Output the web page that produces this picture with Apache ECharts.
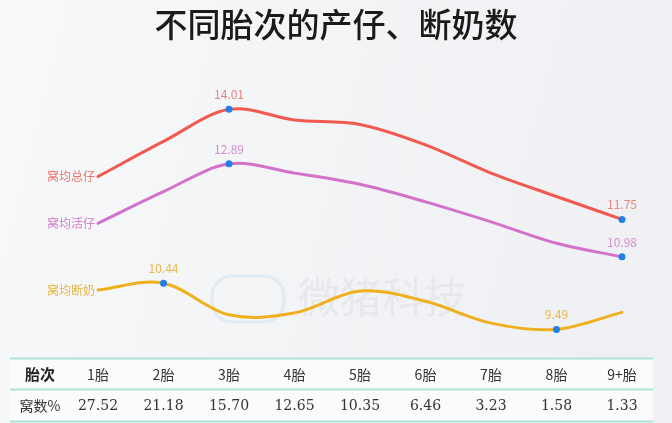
<!DOCTYPE html>
<html>
<head>
<meta charset="utf-8">
<script src="https://cdn.jsdelivr.net/npm/echarts@6/dist/echarts.min.js"></script>
<style>
  html, body { margin: 0; padding: 0; background: #f4f5f7; }
  #chart { width: 672px; height: 423px; }
</style>
</head>
<body>
<div id="chart"></div>
<script>
// Parity categories and the share of litters per parity (table row)
const parities = ['1胎', '2胎', '3胎', '4胎', '5胎', '6胎', '7胎', '8胎', '9+胎'];
const litterShare = ['27.52', '21.18', '15.70', '12.65', '10.35', '6.46', '3.23', '1.58', '1.33'];

// Piglets per litter by parity
const totalBorn = [12.63, 13.35, 14.01, 13.79, 13.70, 13.28, 12.70, 12.22, 11.75];
const bornAlive = [11.67, 12.32, 12.89, 12.70, 12.47, 12.11, 11.70, 11.26, 10.98];
const weaned    = [10.30, 10.44, 9.79, 9.83, 10.28, 10.07, 9.62, 9.49, 9.84];

// Points whose value is printed
const totalBornShown = [2, 8];
const bornAliveShown = [2, 8];
const weanedShown = [1, 7];

const font = '"Noto Sans CJK SC", "Noto Sans", sans-serif';
const dotColor = '#1f80e8';

// Smooth curve through every point (Catmull-Rom), positioned by the axes
function curveSeries(name, values, color) {
  return {
    name: name,
    type: 'custom',
    silent: true,
    z: 2,
    data: values.map(function (v, i) { return [i, v]; }),
    encode: { x: 0, y: 1 },
    renderItem: function (params, api) {
      if (params.dataIndexInside !== 0) return null;
      const n = params.dataInsideLength;
      const pts = [];
      for (let i = 0; i < n; i++) {
        pts.push(api.coord([api.value(0, i), api.value(1, i)]));
      }
      // mirrored end points keep the ends heading straight into the curve
      const head = [2 * pts[0][0] - pts[1][0], 2 * pts[0][1] - pts[1][1]];
      const tail = [2 * pts[n - 1][0] - pts[n - 2][0], 2 * pts[n - 1][1] - pts[n - 2][1]];
      let d = 'M' + pts[0][0] + ' ' + pts[0][1];
      for (let i = 0; i < n - 1; i++) {
        const p0 = i === 0 ? head : pts[i - 1];
        const p1 = pts[i];
        const p2 = pts[i + 1];
        const p3 = i + 2 < n ? pts[i + 2] : tail;
        const c1x = p1[0] + (p2[0] - p0[0]) / 6;
        const c1y = p1[1] + (p2[1] - p0[1]) / 6;
        const c2x = p2[0] - (p3[0] - p1[0]) / 6;
        const c2y = p2[1] - (p3[1] - p1[1]) / 6;
        d += ' C' + c1x + ' ' + c1y + ' ' + c2x + ' ' + c2y + ' ' + p2[0] + ' ' + p2[1];
      }
      return {
        type: 'path',
        shape: { pathData: d },
        style: { fill: 'none', stroke: color, lineWidth: 3, lineCap: 'round', lineJoin: 'round' }
      };
    }
  };
}

// Point markers and labels for one line
function pointSeries(name, values, shown, lineColor, labelColor, nameColor) {
  return {
    name: name,
    type: 'line',
    showSymbol: true,
    symbol: 'circle',
    symbolSize: 2,
    lineStyle: { opacity: 0 },
    itemStyle: { color: lineColor },
    emphasis: { disabled: true },
    z: 3,
    data: values.map(function (v, i) {
      if (i === 0) {
        return {
          value: v,
          label: {
            show: true, position: 'left', distance: 2,
            formatter: name, color: nameColor, fontSize: 12, fontFamily: font
          }
        };
      }
      if (shown.indexOf(i) >= 0) {
        return {
          value: v,
          symbolSize: 7,
          itemStyle: { color: dotColor },
          label: {
            show: true, position: 'top', distance: 5,
            formatter: function (p) { return p.value.toFixed(2); },
            color: labelColor, fontSize: 12, fontFamily: font
          }
        };
      }
      return { value: v };
    })
  };
}

const chart = echarts.init(document.getElementById('chart'), null, { renderer: 'canvas' });

chart.setOption({
  animation: false,
  backgroundColor: {
    type: 'linear', x: 0, y: 0, x2: 1, y2: 0.4,
    colorStops: [
      { offset: 0, color: '#f8f9fb' },
      { offset: 0.5, color: '#f3f4f6' },
      { offset: 1, color: '#eff0f3' }
    ]
  },
  title: {
    text: '不同胎次的产仔、断奶数',
    left: 'center',
    top: 3,
    textStyle: { fontFamily: font, fontSize: 33, fontWeight: 500, color: '#1a1a1a' }
  },
  grid: { left: 98, right: 50, top: 61.1, bottom: 69.7 },
  xAxis: {
    type: 'category',
    data: parities,
    boundaryGap: false,
    axisLine: { show: false },
    axisTick: { show: false },
    splitLine: { show: false },
    axisLabel: {
      interval: 0,
      margin: 5,
      formatter: function (val, idx) {
        return '{c|' + val + '}\n{v|' + litterShare[idx] + '}';
      },
      rich: {
        c: { fontFamily: font, fontSize: 14, color: '#333', lineHeight: 32 },
        v: { fontFamily: '"DejaVu Serif", "Liberation Serif", serif', fontSize: 14, color: '#333', lineHeight: 32 }
      }
    }
  },
  yAxis: { type: 'value', min: 9, max: 15, show: false },
  graphic: [
    // table background
    { type: 'rect', z: -10, shape: { x: 10, y: 358, width: 643, height: 65 }, style: { fill: '#fbfbfc' } },
    // table rules
    { type: 'line', z: 1, shape: { x1: 10, y1: 358.5, x2: 653, y2: 358.5 }, style: { stroke: '#a9e3d6', lineWidth: 2 } },
    { type: 'line', z: 1, shape: { x1: 10, y1: 389.5, x2: 653, y2: 389.5 }, style: { stroke: '#a9e3d6', lineWidth: 2 } },
    { type: 'line', z: 1, shape: { x1: 10, y1: 421.5, x2: 653, y2: 421.5 }, style: { stroke: '#a9e3d6', lineWidth: 2 } },
    // header column
    { type: 'text', z: 2, x: 40, y: 374, style: { text: '胎次', font: 'bold 15px ' + font, fill: '#222', align: 'center', verticalAlign: 'middle' } },
    { type: 'text', z: 2, x: 40, y: 406, style: { text: '窝数%', font: '14px ' + font, fill: '#333', align: 'center', verticalAlign: 'middle' } },
    // brand watermark
    { type: 'rect', z: 0, shape: { x: 212, y: 276, width: 72, height: 46, r: 20 }, style: { fill: 'none', stroke: '#dfeaf3', lineWidth: 3 } },
    { type: 'text', z: 0, x: 382, y: 297, style: { text: '微猪科技', font: '42px ' + font, fill: '#e6e8eb', align: 'center', verticalAlign: 'middle' } }
  ],
  series: [
    curveSeries('窝均总仔', totalBorn, '#f15a50'),
    curveSeries('窝均活仔', bornAlive, '#d272ca'),
    curveSeries('窝均断奶', weaned, '#f0b01e'),
    pointSeries('窝均总仔', totalBorn, totalBornShown, '#f15a50', '#e9857c', '#e8776e'),
    pointSeries('窝均活仔', bornAlive, bornAliveShown, '#d272ca', '#d38fd0', '#d27fcc'),
    pointSeries('窝均断奶', weaned, weanedShown, '#f0b01e', '#e9b849', '#e9b545')
  ]
});
</script>
</body>
</html>
